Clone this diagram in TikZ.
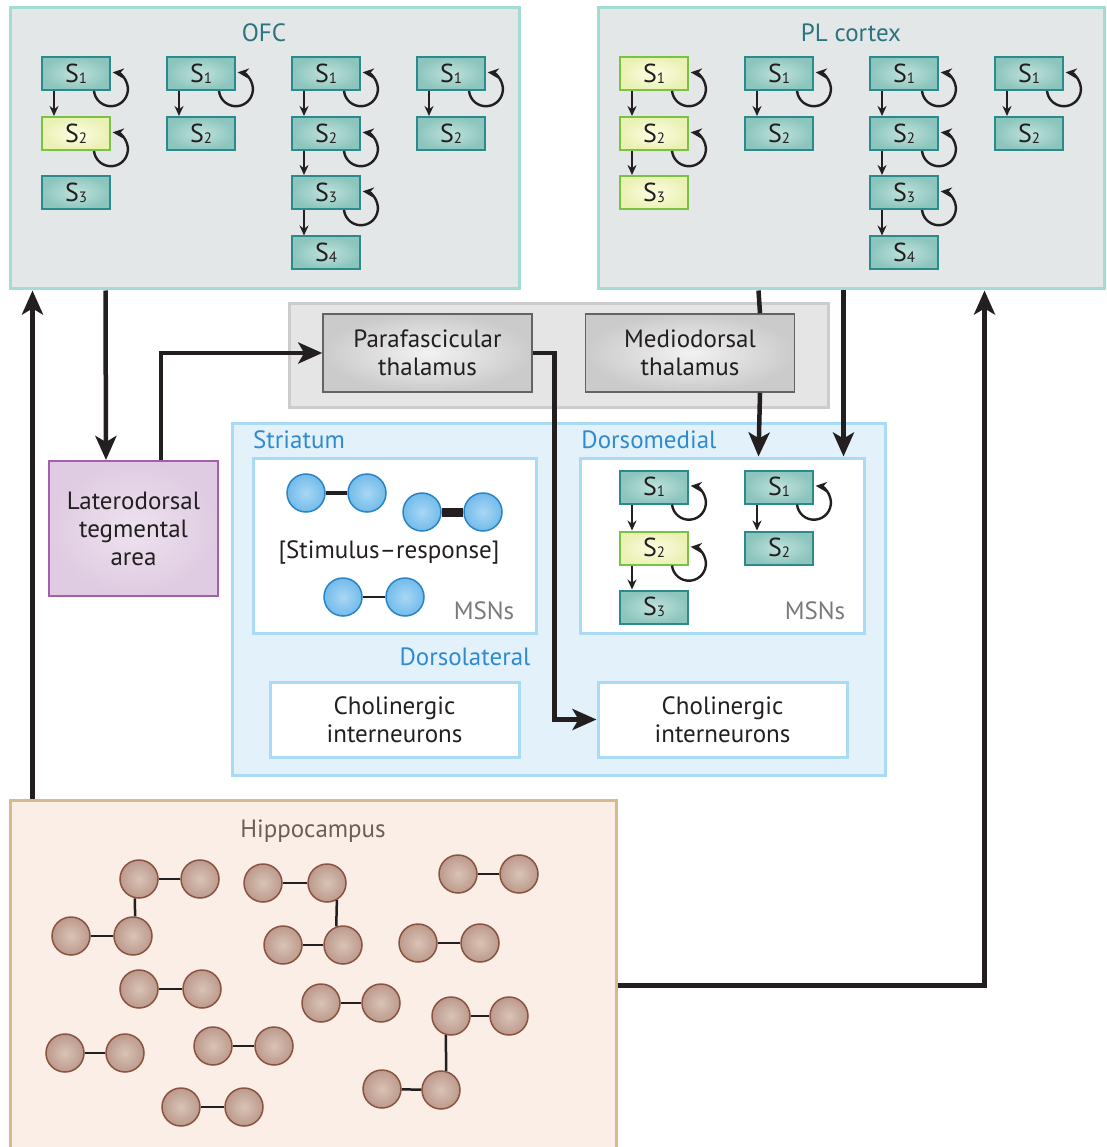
\documentclass[tikz,border=0pt]{standalone}
\usepackage{fontspec}
\setmainfont{PT Sans}
\usetikzlibrary{arrows.meta,calc}

\definecolor{ink}{HTML}{231F20}
\definecolor{cortexfill}{HTML}{E4E7E8}
\definecolor{cortexline}{HTML}{A3DCD3}
\definecolor{cortextext}{HTML}{2A7480}
\definecolor{tealin}{HTML}{C0E2DD}
\definecolor{tealout}{HTML}{8CC5BD}
\definecolor{tealline}{HTML}{2B8A8C}
\definecolor{yellin}{HTML}{FDFDE2}
\definecolor{yellout}{HTML}{EAF1B4}
\definecolor{yelline}{HTML}{7CC242}
\definecolor{thalfill}{HTML}{E5E5E5}
\definecolor{thalline}{HTML}{CCCCCC}
\definecolor{thalin}{HTML}{F2F2F2}
\definecolor{thalout}{HTML}{CBCBCB}
\definecolor{strfill}{HTML}{E3F2FA}
\definecolor{strline}{HTML}{A9DCF4}
\definecolor{strtext}{HTML}{2E8BCF}
\definecolor{bluein}{HTML}{A9D7F5}
\definecolor{blueout}{HTML}{72BBEA}
\definecolor{blueline}{HTML}{2A84C6}
\definecolor{ldtin}{HTML}{EEE2EF}
\definecolor{ldtout}{HTML}{DFCBE2}
\definecolor{ldtline}{HTML}{A55FAE}
\definecolor{hipfill}{HTML}{FAEEE6}
\definecolor{hipline}{HTML}{D6B98E}
\definecolor{hiptext}{HTML}{6B6057}
\definecolor{brownin}{HTML}{D9C3B6}
\definecolor{brownout}{HTML}{BC9A8D}
\definecolor{brownline}{HTML}{8B5340}

\newcommand{\sn}[1]{S\raisebox{-1pt}{\fontsize{15}{15}\selectfont #1}}

\begin{document}
\begin{tikzpicture}[x=1pt,y=-1pt,font=\fontsize{25}{28}\selectfont,text=ink]
        \tikzstyle{region}=[draw,line width=3pt,inner sep=0pt]
        \tikzstyle{cortex}=[region,draw=cortexline,fill=cortexfill]
        \tikzstyle{title}=[inner sep=0pt,text=cortextext]
        \tikzstyle{sub}=[inner sep=0pt,text=strtext]
        \tikzstyle{sbox}=[draw=tealline,line width=2pt,shading=radial,inner color=tealin,outer color=tealout,minimum width=68pt,minimum height=33pt,inner sep=0pt,font=\fontsize{26}{28}\selectfont]
        \tikzstyle{ybox}=[sbox,draw=yelline,inner color=yellin,outer color=yellout]
        \tikzstyle{thbox}=[draw=ink!70,line width=1.5pt,shading=radial,inner color=thalin,outer color=thalout,minimum width=209pt,minimum height=78pt,align=center]
        \tikzstyle{chbox}=[region,draw=strline,fill=white,minimum width=249pt,minimum height=75pt,align=center]
        \tikzstyle{msn}=[circle,draw=blueline,line width=1.5pt,shading=radial,inner color=bluein,outer color=blueout,minimum size=38pt,inner sep=0pt]
        \tikzstyle{cell}=[circle,draw=brownline,line width=1.5pt,shading=radial,inner color=brownin,outer color=brownout,minimum size=38pt,inner sep=0pt]
        \tikzstyle{sarrow}=[draw=ink,line width=2pt,-{Stealth[length=10pt,width=9pt]}]
        \tikzstyle{sloop}=[draw=ink,line width=2.4pt,-{Stealth[length=11pt,width=10pt]}]
        \tikzstyle{bigarrow}=[draw=ink,line width=4.5pt,-{Stealth[length=24pt,width=21pt,inset=6pt]}]
        \tikzstyle{link}=[draw=ink,line width=2.5pt]

        \useasboundingbox (0,0) rectangle (1106,1147);

        % areas
        \node [cortex,minimum width=509pt,minimum height=281pt] (ofc) at (264.5,148.5) {};
        \node [cortex,minimum width=506pt,minimum height=281pt] (pl) at (851,148.5) {};
        \node [region,draw=thalline,fill=thalfill,minimum width=539pt,minimum height=104pt] (thal) at (558.5,355) {};
        \node [region,draw=strline,fill=strfill,minimum width=653pt,minimum height=352pt] (str) at (558.5,599) {};
        \node [region,draw=strline,fill=white,minimum width=283pt,minimum height=175pt] (lmsn) at (394.5,545.5) {};
        \node [region,draw=strline,fill=white,minimum width=284pt,minimum height=175pt] (dmsn) at (722,545.5) {};
        \node [region,draw=hipline,fill=hipfill,minimum width=606pt,minimum height=360pt] (hip) at (313,980) {};
        \node [region,draw=ldtline,line width=2pt,shading=radial,inner color=ldtin,outer color=ldtout,minimum width=169pt,minimum height=135pt,align=center] (ldt) at (133.5,528.5) {Laterodorsal\\tegmental\\area};

        \node [title] (ofct) at (264,33) {OFC};
        \node [title] (plt) at (851,33) {PL cortex};
        \node [sub] (strt) at (299,440) {Striatum};
        \node [sub] (dmt) at (649,440) {Dorsomedial};
        \node [sub] (dlt) at (465,657) {Dorsolateral};
        \node [inner sep=0pt,text=hiptext] (hipt) at (313,831) {Hippocampus};
        \node [inner sep=0pt,text=ink!60] (msnl) at (484,611) {MSNs};
        \node [inner sep=0pt,text=ink!60] (msnd) at (815,611) {MSNs};
        \node [inner sep=0pt] (sr) at (389,552) {[Stimulus–response]};

        \node [thbox] (pf) at (427.5,353) {Parafascicular\\thalamus};
        \node [thbox] (md) at (690,353) {Mediodorsal\\thalamus};
        \node [chbox] (lchi) at (394.5,719.5) {Cholinergic\\interneurons};
        \node [chbox] (dchi) at (722.5,719.5) {Cholinergic\\interneurons};

        % OFC sequences
        \node [sbox] (ofc1s1) at (76,73.5) {\sn1};
        \node [ybox] (ofc1s2) at (76,133.5) {\sn2};
        \node [sbox] (ofc1s3) at (76,192.5) {\sn3};
        \node [sbox] (ofc2s1) at (201,73.5) {\sn1};
        \node [sbox] (ofc2s2) at (201,133.5) {\sn2};
        \node [sbox] (ofc3s1) at (326,73.5) {\sn1};
        \node [sbox] (ofc3s2) at (326,133.5) {\sn2};
        \node [sbox] (ofc3s3) at (326,192.5) {\sn3};
        \node [sbox] (ofc3s4) at (326,253) {\sn4};
        \node [sbox] (ofc4s1) at (451,73.5) {\sn1};
        \node [sbox] (ofc4s2) at (451,133.5) {\sn2};

        % PL sequences
        \node [ybox] (pl1s1) at (654,73.5) {\sn1};
        \node [ybox] (pl1s2) at (654,133.5) {\sn2};
        \node [ybox] (pl1s3) at (654,192.5) {\sn3};
        \node [sbox] (pl2s1) at (779,73.5) {\sn1};
        \node [sbox] (pl2s2) at (779,133.5) {\sn2};
        \node [sbox] (pl3s1) at (904,73.5) {\sn1};
        \node [sbox] (pl3s2) at (904,133.5) {\sn2};
        \node [sbox] (pl3s3) at (904,192.5) {\sn3};
        \node [sbox] (pl3s4) at (904,253) {\sn4};
        \node [sbox] (pl4s1) at (1029,73.5) {\sn1};
        \node [sbox] (pl4s2) at (1029,133.5) {\sn2};

        % dorsomedial MSNs
        \node [sbox] (dm1s1) at (654,487) {\sn1};
        \node [ybox] (dm1s2) at (654,548) {\sn2};
        \node [sbox] (dm1s3) at (654,607) {\sn3};
        \node [sbox] (dm2s1) at (779,487) {\sn1};
        \node [sbox] (dm2s2) at (779,548) {\sn2};

        \path[sarrow] ($(ofc1s1.south west)+(13,0)$) -- ($(ofc1s2.north west)+(13,0)$);
        \path[sarrow] ($(ofc2s1.south west)+(13,0)$) -- ($(ofc2s2.north west)+(13,0)$);
        \path[sarrow] ($(ofc3s1.south west)+(13,0)$) -- ($(ofc3s2.north west)+(13,0)$);
        \path[sarrow] ($(ofc3s2.south west)+(13,0)$) -- ($(ofc3s3.north west)+(13,0)$);
        \path[sarrow] ($(ofc3s3.south west)+(13,0)$) -- ($(ofc3s4.north west)+(13,0)$);
        \path[sarrow] ($(ofc4s1.south west)+(13,0)$) -- ($(ofc4s2.north west)+(13,0)$);
        \path[sarrow] ($(pl1s1.south west)+(13,0)$) -- ($(pl1s2.north west)+(13,0)$);
        \path[sarrow] ($(pl1s2.south west)+(13,0)$) -- ($(pl1s3.north west)+(13,0)$);
        \path[sarrow] ($(pl2s1.south west)+(13,0)$) -- ($(pl2s2.north west)+(13,0)$);
        \path[sarrow] ($(pl3s1.south west)+(13,0)$) -- ($(pl3s2.north west)+(13,0)$);
        \path[sarrow] ($(pl3s2.south west)+(13,0)$) -- ($(pl3s3.north west)+(13,0)$);
        \path[sarrow] ($(pl3s3.south west)+(13,0)$) -- ($(pl3s4.north west)+(13,0)$);
        \path[sarrow] ($(pl4s1.south west)+(13,0)$) -- ($(pl4s2.north west)+(13,0)$);
        \path[sarrow] ($(dm1s1.south west)+(13,0)$) -- ($(dm1s2.north west)+(13,0)$);
        \path[sarrow] ($(dm1s2.south west)+(13,0)$) -- ($(dm1s3.north west)+(13,0)$);
        \path[sarrow] ($(dm2s1.south west)+(13,0)$) -- ($(dm2s2.north west)+(13,0)$);

        % self loops
        \path[sloop] ($(ofc1s1.south east)+(-17,0)$) arc[start angle=174,end angle=-84,radius=17];
        \path[sloop] ($(ofc1s2.south east)+(-17,0)$) arc[start angle=174,end angle=-84,radius=17];
        \path[sloop] ($(ofc2s1.south east)+(-17,0)$) arc[start angle=174,end angle=-84,radius=17];
        \path[sloop] ($(ofc3s1.south east)+(-17,0)$) arc[start angle=174,end angle=-84,radius=17];
        \path[sloop] ($(ofc3s2.south east)+(-17,0)$) arc[start angle=174,end angle=-84,radius=17];
        \path[sloop] ($(ofc3s3.south east)+(-17,0)$) arc[start angle=174,end angle=-84,radius=17];
        \path[sloop] ($(ofc4s1.south east)+(-17,0)$) arc[start angle=174,end angle=-84,radius=17];
        \path[sloop] ($(pl1s1.south east)+(-17,0)$) arc[start angle=174,end angle=-84,radius=17];
        \path[sloop] ($(pl1s2.south east)+(-17,0)$) arc[start angle=174,end angle=-84,radius=17];
        \path[sloop] ($(pl2s1.south east)+(-17,0)$) arc[start angle=174,end angle=-84,radius=17];
        \path[sloop] ($(pl3s1.south east)+(-17,0)$) arc[start angle=174,end angle=-84,radius=17];
        \path[sloop] ($(pl3s2.south east)+(-17,0)$) arc[start angle=174,end angle=-84,radius=17];
        \path[sloop] ($(pl3s3.south east)+(-17,0)$) arc[start angle=174,end angle=-84,radius=17];
        \path[sloop] ($(pl4s1.south east)+(-17,0)$) arc[start angle=174,end angle=-84,radius=17];
        \path[sloop] ($(dm1s1.south east)+(-17,0)$) arc[start angle=174,end angle=-84,radius=17];
        \path[sloop] ($(dm1s2.south east)+(-17,0)$) arc[start angle=174,end angle=-84,radius=17];
        \path[sloop] ($(dm2s1.south east)+(-17,0)$) arc[start angle=174,end angle=-84,radius=17];

        % stimulus-response pairs
        \node [msn] (b1) at (306,493) {};
        \node [msn] (b2) at (367,493) {};
        \node [msn] (b3) at (422,512) {};
        \node [msn] (b4) at (483,512) {};
        \node [msn] (b5) at (343,597) {};
        \node [msn] (b6) at (405,597) {};
        \path[draw=ink,line width=4pt] (b1) -- (b2);
        \path[draw=ink,line width=9pt] (b3) -- (b4);
        \path[draw=ink,line width=1.5pt] (b5) -- (b6);

        % hippocampal cells
        \node [cell] (h1) at (139,879) {};
        \node [cell] (h2) at (200,879) {};
        \node [cell] (h3) at (71,936) {};
        \node [cell] (h4) at (133,936) {};
        \node [cell] (h5) at (263,883) {};
        \node [cell] (h6) at (327,883) {};
        \node [cell] (h7) at (283,945) {};
        \node [cell] (h8) at (343,945) {};
        \node [cell] (h9) at (458,874) {};
        \node [cell] (h10) at (519,874) {};
        \node [cell] (h11) at (418,943) {};
        \node [cell] (h12) at (480,943) {};
        \node [cell] (h13) at (139,989) {};
        \node [cell] (h14) at (202,989) {};
        \node [cell] (h15) at (321,1003) {};
        \node [cell] (h16) at (381,1003) {};
        \node [cell] (h17) at (451,1016) {};
        \node [cell] (h18) at (509,1016) {};
        \node [cell] (h19) at (382,1089) {};
        \node [cell] (h20) at (441,1090) {};
        \node [cell] (h21) at (65,1053) {};
        \node [cell] (h22) at (125,1053) {};
        \node [cell] (h23) at (213,1046) {};
        \node [cell] (h24) at (274,1046) {};
        \node [cell] (h25) at (181,1107) {};
        \node [cell] (h26) at (244,1107) {};
        \path[link] (h1) -- (h2);
        \path[link] (h3) -- (h4);
        \path[link] (h1.258) -- (h4.84);
        \path[link] (h5) -- (h6);
        \path[link] (h7) -- (h8);
        \path[link] (h6.300) -- (h8.110);
        \path[link] (h9) -- (h10);
        \path[link] (h11) -- (h12);
        \path[link] (h13) -- (h14);
        \path[link] (h15) -- (h16);
        \path[link] (h17) -- (h18);
        \path[link] (h19) -- (h20);
        \path[link] (h17.255) -- (h20.75);
        \path[link] (h21) -- (h22);
        \path[link] (h23) -- (h24);
        \path[link] (h25) -- (h26);

        % projections
        \path[bigarrow] ($(hip.north west)+(24,0)$) -- ($(ofc.south west)+(24,0)$);
        \path[bigarrow] ($(ofc.south west)+(97,0)$) -- ($(ldt.north west)+(58,0)$);
        \path[bigarrow] ($(ldt.north west)+(113,0)$) |- (pf.west);
        \path[bigarrow] (pf.east) -| ($(dchi.west)+(-42,0)$) -- (dchi.west);
        \path[draw=ink,line width=4.5pt] ($(pl.south west)+(162,0)$) -- ($(md.north)+(70,0)$);
        \path[bigarrow] ($(md.south)+(70,0)$) -- ($(dmsn.north west)+(180,0)$);
        \path[bigarrow] ($(pl.south west)+(247,0)$) -- ($(dmsn.north west)+(265,0)$);
        \path[bigarrow] ($(hip.north east)+(0,187)$) -| ($(pl.south west)+(388,0)$);
\end{tikzpicture}
\end{document}
